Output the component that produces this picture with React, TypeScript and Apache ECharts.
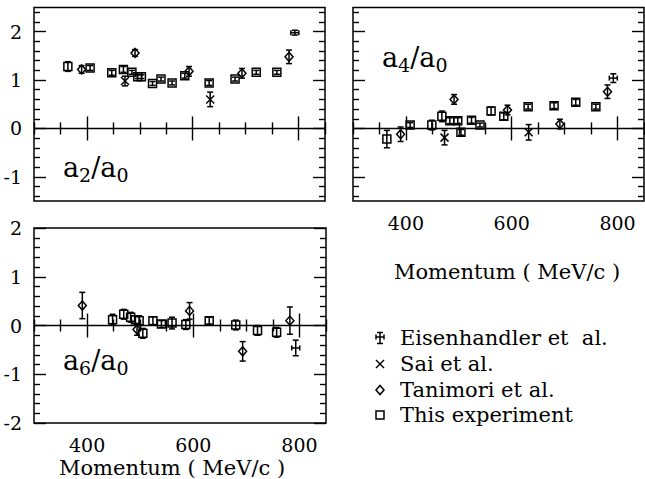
import React, { useEffect, useRef } from "react";
import * as echarts from "echarts";

const FONT = "'DejaVu Serif', 'Liberation Serif', serif";

// ---- axis ticks / labels ----
const X_MIN = 300;
const X_MAX = 850;
const xMajorTicks = [400, 600, 800];
const xMinorTicks = [300, 350, 450, 500, 550, 650, 700, 750, 850];
const xTickLabels = [400, 600, 800];
const yTopRange = [-1.5, 2.5];
const yBottomRange = [-2, 2];
const yMajorTop = [-1, 0, 1, 2];
const yMinorTop = [-1.4, -1.2, -0.8, -0.6, -0.4, -0.2, 0.2, 0.4, 0.6, 0.8, 1.2, 1.4, 1.6, 1.8, 2.2, 2.4];
const yMajorBottom = [-2, -1, 0, 1, 2];
const yMinorBottom = [-1.8, -1.6, -1.4, -1.2, -0.8, -0.6, -0.4, -0.2, 0.2, 0.4, 0.6, 0.8, 1.2, 1.4, 1.6, 1.8];
const zeroLine = [[300, 0], [850, 0]];

// ---- data: [momentum MeV/c, ratio, error] ----
const a2This = [
  [364, 1.28, 0.1], [406, 1.25, 0.05], [447, 1.15, 0.05], [469, 1.22, 0.06], [485, 1.16, 0.04],
  [496, 1.07, 0.04], [503, 1.07, 0.04], [524, 0.93, 0.04], [540, 1.02, 0.04], [561, 0.94, 0.04],
  [585, 1.09, 0.05], [631, 0.94, 0.05], [680, 1.02, 0.04], [720, 1.16, 0.04], [759, 1.16, 0.04],
];
const a2Tanimori = [[390, 1.22, 0.08], [491, 1.56, 0.07], [593, 1.18, 0.1], [693, 1.14, 0.1], [782, 1.48, 0.14]];
const a2Sai = [[472, 0.98, 0.1], [633, 0.6, 0.15]];
const a2Eisen = [[793, 1.98, 0.05]];

const a4This = [
  [364, -0.22, 0.18], [408, 0.07, 0.05], [449, 0.07, 0.1], [468, 0.25, 0.11], [483, 0.16, 0.06],
  [498, 0.16, 0.06], [504, -0.08, 0.06], [524, 0.17, 0.06], [540, 0.07, 0.04], [561, 0.36, 0.08],
  [585, 0.25, 0.07], [631, 0.45, 0.05], [680, 0.47, 0.06], [721, 0.54, 0.06], [759, 0.45, 0.05],
];
const a4Tanimori = [[390, -0.12, 0.15], [491, 0.6, 0.1], [592, 0.38, 0.1], [691, 0.09, 0.1], [781, 0.76, 0.14]];
const a4Sai = [[473, -0.19, 0.15], [632, -0.08, 0.16]];
const a4Eisen = [[792, 1.04, 0.09]];

const a6This = [
  [448, 0.12, 0.11], [469, 0.23, 0.1], [482, 0.17, 0.1], [491, 0.12, 0.08], [498, 0.1, 0.1],
  [505, -0.16, 0.1], [524, 0.1, 0.08], [540, 0.03, 0.07], [560, 0.05, 0.12], [586, 0.02, 0.1],
  [630, 0.1, 0.07], [680, 0.01, 0.1], [721, -0.1, 0.1], [757, -0.14, 0.1],
];
const a6Tanimori = [[391, 0.41, 0.27], [494, -0.08, 0.12], [593, 0.3, 0.17], [693, -0.53, 0.2], [782, 0.1, 0.28]];
const a6Eisen = [[793, -0.46, 0.16]];

const legendNames = ["Eisenhandler et  al.", "Sai et al.", "Tanimori et al.", "This experiment"];
const legendKinds = ["eisen", "sai", "tanimori", "square"];
const xTitle = "Momentum ( MeV/c )";

// ---- drawing helpers ----
const LW = 1.5;
const ln = (x1: number, y1: number, x2: number, y2: number) => ({
  type: "line",
  shape: { x1, y1, x2, y2 },
  style: { stroke: "#000", lineWidth: LW },
  silent: true,
});

function markerEls(kind: string, cx: number, cy: number): any[] {
  if (kind === "square") {
    return [{ type: "rect", shape: { x: cx - 4, y: cy - 4, width: 8, height: 8 }, style: { stroke: "#000", fill: "none", lineWidth: LW }, silent: true }];
  }
  if (kind === "tanimori") {
    return [{
      type: "polygon",
      shape: { points: [[cx, cy - 4.5], [cx + 4, cy], [cx, cy + 4.5], [cx - 4, cy]] },
      style: { stroke: "#000", fill: "none", lineWidth: LW },
      silent: true,
    }];
  }
  if (kind === "sai") {
    return [ln(cx - 4, cy - 4, cx + 4, cy + 4), ln(cx - 4, cy + 4, cx + 4, cy - 4)];
  }
  // eisen: horizontal bar with small end caps
  return [ln(cx - 4, cy, cx + 4, cy), ln(cx - 4, cy - 2.5, cx - 4, cy + 2.5), ln(cx + 4, cy - 2.5, cx + 4, cy + 2.5)];
}

function render(kind: string) {
  return (_params: any, api: any) => {
    const p = api.value(0);
    const v = api.value(1);
    const e = api.value(2);
    const c = api.coord([p, v]);
    const t = api.coord([p, v + e])[1];
    const b = api.coord([p, v - e])[1];
    const cx = c[0];
    const cy = c[1];
    const children = [ln(cx, t, cx, b), ln(cx - 3, t, cx + 3, t), ln(cx - 3, b, cx + 3, b), ...markerEls(kind, cx, cy)];
    return { type: "group", children };
  };
}

const tickLine = { color: "#000", width: 1.4 };
const labelStyle = { color: "#000", fontFamily: FONT, fontSize: 19 };

function xAxesFor(grid: number, labels: boolean) {
  const base = { type: "value", gridIndex: grid, min: X_MIN, max: X_MAX, splitLine: { show: false }, axisLine: { show: false } };
  return [
    {
      ...base, position: "bottom",
      axisTick: { show: true, inside: true, length: 12, customValues: xMajorTicks, lineStyle: tickLine },
      axisLabel: labels ? { show: true, customValues: xTickLabels, margin: 12, ...labelStyle } : { show: false },
    },
    { ...base, position: "bottom", axisTick: { show: true, inside: true, length: 6, customValues: xMinorTicks, lineStyle: tickLine }, axisLabel: { show: false } },
    { ...base, position: "top", axisTick: { show: true, inside: true, length: 12, customValues: xMajorTicks, lineStyle: tickLine }, axisLabel: { show: false } },
    { ...base, position: "top", axisTick: { show: true, inside: true, length: 6, customValues: xMinorTicks, lineStyle: tickLine }, axisLabel: { show: false } },
  ];
}

function yAxesFor(grid: number, range: number[], major: number[], minor: number[], labels: boolean) {
  const base = { type: "value", gridIndex: grid, min: range[0], max: range[1], splitLine: { show: false }, axisLine: { show: false } };
  return [
    {
      ...base, position: "left",
      axisTick: { show: true, inside: true, length: 12, customValues: major, lineStyle: tickLine },
      axisLabel: labels ? { show: true, customValues: major, margin: 12, ...labelStyle } : { show: false },
    },
    { ...base, position: "left", axisTick: { show: true, inside: true, length: 6, customValues: minor, lineStyle: tickLine }, axisLabel: { show: false } },
    { ...base, position: "right", axisTick: { show: true, inside: true, length: 12, customValues: major, lineStyle: tickLine }, axisLabel: { show: false } },
    { ...base, position: "right", axisTick: { show: true, inside: true, length: 6, customValues: minor, lineStyle: tickLine }, axisLabel: { show: false } },
  ];
}

function panelSeries(grid: number, sets: { kind: string; name: string; data: number[][] }[]) {
  const out: any[] = [
    {
      type: "line", xAxisIndex: grid * 4, yAxisIndex: grid * 4, data: zeroLine,
      symbol: "none", silent: true, lineStyle: { color: "#000", width: 1.5 },
    },
  ];
  sets.forEach((s) => {
    out.push({
      type: "custom", name: s.name, xAxisIndex: grid * 4, yAxisIndex: grid * 4,
      dimensions: ["p", "v", "e"], encode: { x: 0, y: 1 },
      data: s.data, renderItem: render(s.kind), silent: true,
    });
  });
  return out;
}

function ratioLabel(sub: string, x: number, baseline: number) {
  return {
    type: "text",
    x,
    y: baseline - 9.3 - 13.5,
    silent: true,
    style: {
      text: `{m|a}{s|${sub}}{m|/a}{s|0}`,
      align: "left", textAlign: "left",
      verticalAlign: "top", textVerticalAlign: "top",
      fill: "#000",
      rich: {
        m: { fontSize: 27, fontFamily: FONT, verticalAlign: "top", fill: "#000", color: "#000" },
        s: { fontSize: 19, fontFamily: FONT, verticalAlign: "top", padding: [11, 0, 0, 0], fill: "#000", color: "#000" },
      },
    },
  };
}

function centeredText(text: string, x: number, y: number, size: number, align = "center") {
  return {
    type: "text", x, y, silent: true,
    style: { text, fill: "#000", fontSize: size, fontFamily: FONT, align, textAlign: align, verticalAlign: "middle", textVerticalAlign: "middle" },
  };
}

function legendGraphics() {
  const els: any[] = [];
  const rows = [338, 364, 390, 415];
  legendKinds.forEach((k, i) => {
    const cx = 380;
    const cy = rows[i];
    if (k === "eisen") {
      els.push(ln(cx, cy - 5.5, cx, cy + 5.5), ln(cx - 3, cy - 5.5, cx + 3, cy - 5.5), ln(cx - 3, cy + 5.5, cx + 3, cy + 5.5));
      els.push(...markerEls("eisen", cx, cy - 1));
    } else {
      els.push(...markerEls(k, cx, cy));
    }
    els.push(centeredText(legendNames[i], 400, cy, 21, "left"));
  });
  return els;
}

export default function App() {
  const ref = useRef<HTMLDivElement>(null);
  useEffect(() => {
    const chart = echarts.init(ref.current!, null, { renderer: "svg" });
    const gridBase = { show: true, borderColor: "#000", borderWidth: 1.5, backgroundColor: "transparent", containLabel: false };
    const option: any = {
      animation: false,
      backgroundColor: "#fff",
      grid: [
        { ...gridBase, left: 34, top: 7.5, width: 291, height: 193.5 },
        { ...gridBase, left: 353, top: 7.5, width: 291, height: 193.5 },
        { ...gridBase, left: 34, top: 228, width: 292, height: 195 },
      ],
      xAxis: [...xAxesFor(0, false), ...xAxesFor(1, true), ...xAxesFor(2, true)],
      yAxis: [
        ...yAxesFor(0, yTopRange, yMajorTop, yMinorTop, true),
        ...yAxesFor(1, yTopRange, yMajorTop, yMinorTop, false),
        ...yAxesFor(2, yBottomRange, yMajorBottom, yMinorBottom, true),
      ],
      series: [
        ...panelSeries(0, [
          { kind: "square", name: legendNames[3], data: a2This },
          { kind: "tanimori", name: legendNames[2], data: a2Tanimori },
          { kind: "sai", name: legendNames[1], data: a2Sai },
          { kind: "eisen", name: legendNames[0], data: a2Eisen },
        ]),
        ...panelSeries(1, [
          { kind: "square", name: legendNames[3], data: a4This },
          { kind: "tanimori", name: legendNames[2], data: a4Tanimori },
          { kind: "sai", name: legendNames[1], data: a4Sai },
          { kind: "eisen", name: legendNames[0], data: a4Eisen },
        ]),
        ...panelSeries(2, [
          { kind: "square", name: legendNames[3], data: a6This },
          { kind: "tanimori", name: legendNames[2], data: a6Tanimori },
          { kind: "eisen", name: legendNames[0], data: a6Eisen },
        ]),
      ],
      graphic: [
        ratioLabel("2", 63, 177),
        ratioLabel("4", 382, 67),
        ratioLabel("6", 63, 370),
        centeredText(xTitle, 507, 272, 21),
        centeredText(xTitle, 172, 468, 21),
        ...legendGraphics(),
      ],
    };
    chart.setOption(option);
    return () => chart.dispose();
  }, []);
  return (
    <div
      ref={ref}
      style={{ position: "fixed", left: 0, top: 0, width: 645, height: 479, background: "#fff" }}
    />
  );
}
